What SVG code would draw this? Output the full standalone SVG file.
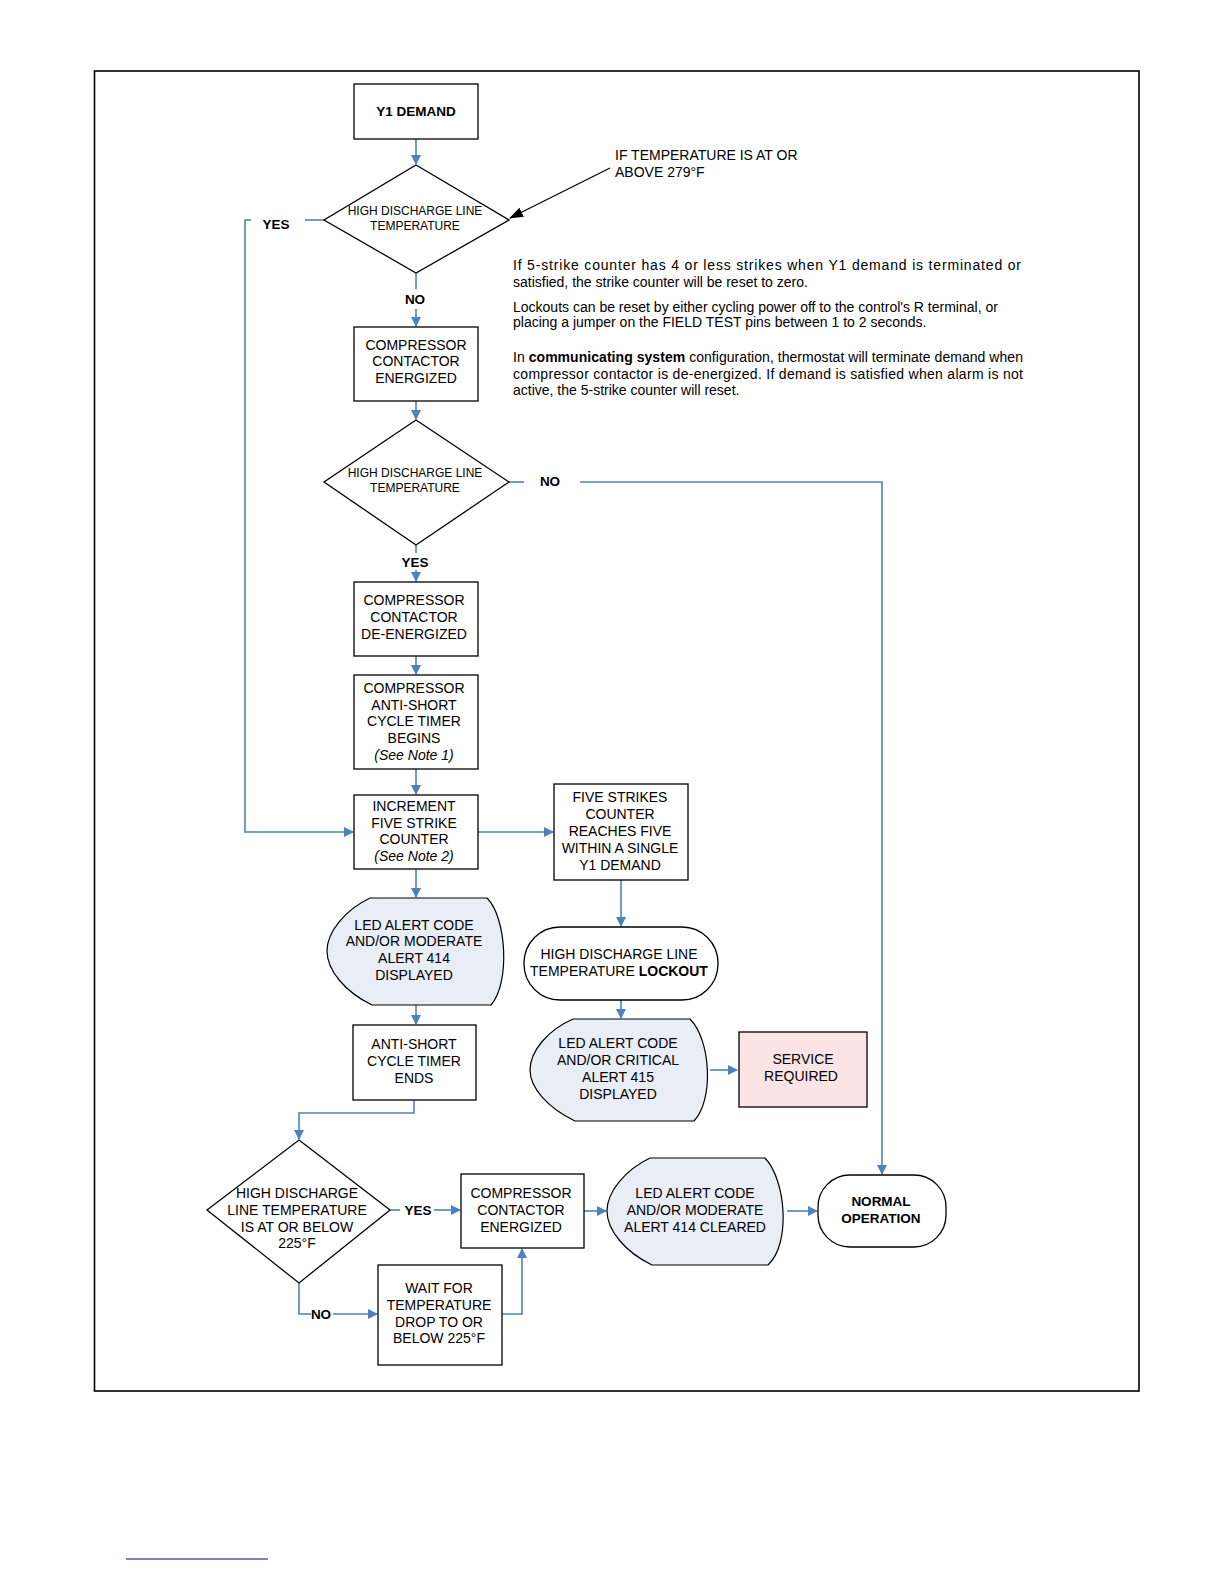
<svg xmlns="http://www.w3.org/2000/svg" width="1224" height="1584" viewBox="0 0 1224 1584">
<style>
.box{fill:#fff;stroke:#000;stroke-width:1.3}
.disp{fill:#E9EDF6;stroke:#000;stroke-width:1.2}
.t{font-family:"Liberation Sans",Arial,sans-serif;font-size:14px;fill:#000;text-anchor:middle}
.ts{font-family:"Liberation Sans",Arial,sans-serif;font-size:12px;fill:#000;text-anchor:middle}
.b{font-family:"Liberation Sans",Arial,sans-serif;font-size:13.5px;font-weight:bold;fill:#000;text-anchor:middle}
.n{font-family:"Liberation Sans",Arial,sans-serif;font-size:14px;fill:#000}
.c{fill:none;stroke:#4F81BD;stroke-width:1.6}
</style>
<defs>
<marker id="ar" markerWidth="10" markerHeight="10" refX="9" refY="5" orient="auto" markerUnits="userSpaceOnUse">
<path d="M0,0 L10,5 L0,10 Z" fill="#4F81BD"/>
</marker>
<marker id="ak" markerWidth="14" markerHeight="10" refX="13" refY="5" orient="auto" markerUnits="userSpaceOnUse">
<path d="M0,0 L14,5 L0,10 Z" fill="#000"/>
</marker>
</defs>
<rect width="1224" height="1584" fill="#fff"/>
<rect x="94.5" y="71" width="1044.5" height="1320" fill="none" stroke="#000" stroke-width="1.6"/>
<line x1="126" y1="1559" x2="268" y2="1559" stroke="#000080" stroke-width="1.2"/>

<g id="connectors">
<path class="c" d="M416,139 V164" marker-end="url(#ar)"/>
<path class="c" d="M324,220 H305"/>
<path class="c" d="M251,220 H245 V832 H353" marker-end="url(#ar)"/>
<path class="c" d="M416,273 V289"/>
<path class="c" d="M416,309 V326" marker-end="url(#ar)"/>
<path class="c" d="M416,401 V419" marker-end="url(#ar)"/>
<path class="c" d="M509,482 H524"/>
<path class="c" d="M580,482 H882 V1174" marker-end="url(#ar)"/>
<path class="c" d="M416,545 V553"/>
<path class="c" d="M416,570 V581" marker-end="url(#ar)"/>
<path class="c" d="M416,656 V674" marker-end="url(#ar)"/>
<path class="c" d="M416,769 V794" marker-end="url(#ar)"/>
<path class="c" d="M478,832 H553" marker-end="url(#ar)"/>
<path class="c" d="M621,880 V926" marker-end="url(#ar)"/>
<path class="c" d="M621,1000 V1018" marker-end="url(#ar)"/>
<path class="c" d="M416,869 V897" marker-end="url(#ar)"/>
<path class="c" d="M416,1005 V1024" marker-end="url(#ar)"/>
<path class="c" d="M414,1100 V1113 H299 V1139" marker-end="url(#ar)"/>
<path class="c" d="M710,1070 H737" marker-end="url(#ar)"/>
<path class="c" d="M390,1210 H400"/>
<path class="c" d="M434,1210 H460" marker-end="url(#ar)"/>
<path class="c" d="M584,1211 H606" marker-end="url(#ar)"/>
<path class="c" d="M787,1211 H817" marker-end="url(#ar)"/>
<path class="c" d="M299,1283 V1314 H377" marker-end="url(#ar)"/>
<path class="c" d="M502,1314 H522 V1249" marker-end="url(#ar)"/>
<path d="M610,168 L510,218" fill="none" stroke="#000" stroke-width="1.2" marker-end="url(#ak)"/>
</g>

<g id="labels">
<text class="b" x="276" y="229">YES</text>
<text class="b" x="415" y="304">NO</text>
<text class="b" x="550" y="486">NO</text>
<text class="b" x="415" y="567">YES</text>
<text class="b" x="418" y="1215">YES</text>
<rect x="311" y="1306" width="22" height="15" fill="#fff"/>
<text class="b" x="321" y="1319">NO</text>
</g>

<g id="note-temp">
<text class="n" x="615" y="160">IF TEMPERATURE IS AT OR</text>
<text class="n" x="615" y="177">ABOVE 279°F</text>
</g>

<g id="notes">
<text class="n" x="513" y="270" textLength="508" lengthAdjust="spacing">If 5-strike counter has 4 or less strikes when Y1 demand is terminated or</text>
<text class="n" x="513" y="287">satisfied, the strike counter will be reset to zero.</text>
<text class="n" x="513" y="312">Lockouts can be reset  by either cycling power off to the control's R terminal, or</text>
<text class="n" x="513" y="327">placing a jumper on the FIELD TEST pins between 1 to 2 seconds.</text>
<text class="n" x="513" y="362" textLength="510" lengthAdjust="spacing">In <tspan font-weight="bold">communicating system</tspan> configuration, thermostat will terminate demand when</text>
<text class="n" x="513" y="379" textLength="510" lengthAdjust="spacing">compressor contactor is de-energized. If demand is satisfied when alarm is not</text>
<text class="n" x="513" y="395">active, the 5-strike counter will reset.</text>
</g>

<g id="y1demand">
<rect class="box" x="354" y="84" width="124" height="55"/>
<text class="b" x="416" y="116" font-size="14">Y1 DEMAND</text>
</g>

<g id="hdlt1">
<path class="box" d="M416,165 L509,220 L416,273 L324,220 Z"/>
<text class="ts" x="415" y="215">HIGH DISCHARGE LINE</text>
<text class="ts" x="415" y="230">TEMPERATURE</text>
</g>

<g id="cce1">
<rect class="box" x="354" y="327" width="124" height="74"/>
<text class="t" x="416" y="350">COMPRESSOR</text>
<text class="t" x="416" y="366">CONTACTOR</text>
<text class="t" x="416" y="383">ENERGIZED</text>
</g>

<g id="hdlt2">
<path class="box" d="M416,420 L509,482 L416,545 L324,482 Z"/>
<text class="ts" x="415" y="477">HIGH DISCHARGE LINE</text>
<text class="ts" x="415" y="492">TEMPERATURE</text>
</g>

<g id="ccde">
<rect class="box" x="354" y="582" width="124" height="74"/>
<text class="t" x="414" y="605">COMPRESSOR</text>
<text class="t" x="414" y="622">CONTACTOR</text>
<text class="t" x="414" y="639">DE-ENERGIZED</text>
</g>

<g id="ascbegins">
<rect class="box" x="354" y="675" width="124" height="94"/>
<text class="t" x="414" y="693">COMPRESSOR</text>
<text class="t" x="414" y="710">ANTI-SHORT</text>
<text class="t" x="414" y="726">CYCLE TIMER</text>
<text class="t" x="414" y="743">BEGINS</text>
<text class="t" x="414" y="760" font-style="italic">(See Note 1)</text>
</g>

<g id="increment">
<rect class="box" x="354" y="795" width="124" height="74"/>
<text class="t" x="414" y="811">INCREMENT</text>
<text class="t" x="414" y="828">FIVE STRIKE</text>
<text class="t" x="414" y="844">COUNTER</text>
<text class="t" x="414" y="861" font-style="italic">(See Note 2)</text>
</g>

<g id="fivestrikes">
<rect class="box" x="554" y="784" width="134" height="96"/>
<text class="t" x="620" y="802">FIVE STRIKES</text>
<text class="t" x="620" y="819">COUNTER</text>
<text class="t" x="620" y="836">REACHES FIVE</text>
<text class="t" x="620" y="853">WITHIN A SINGLE</text>
<text class="t" x="620" y="870">Y1 DEMAND</text>
</g>

<g id="lockout">
<rect class="box" x="524" y="927" width="194" height="73" rx="36" ry="36"/>
<text class="t" x="619" y="959">HIGH DISCHARGE LINE</text>
<text class="t" x="619" y="976">TEMPERATURE <tspan font-weight="bold">LOCKOUT</tspan></text>
</g>

<g id="alert414">
<path class="disp" d="M370,898 L487,898 C507,918 510,984 491,1005 L372,1005 C345,992 327,970 327,951 C327,932 345,910 370,898 Z"/>
<text class="t" x="414" y="930">LED ALERT CODE</text>
<text class="t" x="414" y="946">AND/OR MODERATE</text>
<text class="t" x="414" y="963">ALERT 414</text>
<text class="t" x="414" y="980">DISPLAYED</text>
</g>

<g id="ascends">
<rect class="box" x="353" y="1025" width="123" height="75"/>
<text class="t" x="414" y="1049">ANTI-SHORT</text>
<text class="t" x="414" y="1066">CYCLE TIMER</text>
<text class="t" x="414" y="1083">ENDS</text>
</g>

<g id="alert415">
<path class="disp" d="M573,1019 L690,1019 C711,1040 714,1100 694,1121 L575,1121 C548,1108 530,1088 530,1070 C530,1051 548,1030 573,1019 Z"/>
<text class="t" x="618" y="1048">LED ALERT CODE</text>
<text class="t" x="618" y="1065">AND/OR CRITICAL</text>
<text class="t" x="618" y="1082">ALERT 415</text>
<text class="t" x="618" y="1099">DISPLAYED</text>
</g>

<g id="service">
<rect x="739" y="1032" width="128" height="75" fill="#FCE4E4" stroke="#000" stroke-width="1.3"/>
<text class="t" x="803" y="1064">SERVICE</text>
<text class="t" x="801" y="1081">REQUIRED</text>
</g>

<g id="hdlt3">
<path class="box" d="M299,1140 L390,1210 L299,1283 L207,1210 Z"/>
<text class="t" x="297" y="1198">HIGH DISCHARGE</text>
<text class="t" x="297" y="1215">LINE TEMPERATURE</text>
<text class="t" x="297" y="1232">IS AT OR BELOW</text>
<text class="t" x="297" y="1248">225°F</text>
</g>

<g id="cce2">
<rect class="box" x="461" y="1174" width="123" height="74"/>
<text class="t" x="521" y="1198">COMPRESSOR</text>
<text class="t" x="521" y="1215">CONTACTOR</text>
<text class="t" x="521" y="1232">ENERGIZED</text>
</g>

<g id="waitfor">
<rect class="box" x="378" y="1265" width="124" height="100"/>
<text class="t" x="439" y="1293">WAIT FOR</text>
<text class="t" x="439" y="1310">TEMPERATURE</text>
<text class="t" x="439" y="1327">DROP TO OR</text>
<text class="t" x="439" y="1343">BELOW 225°F</text>
</g>

<g id="cleared">
<path class="disp" d="M650,1158 L765,1158 C786,1180 791,1244 768,1265 L652,1265 C625,1252 607,1230 607,1211 C607,1192 625,1170 650,1158 Z"/>
<text class="t" x="695" y="1198">LED ALERT CODE</text>
<text class="t" x="695" y="1215">AND/OR MODERATE</text>
<text class="t" x="695" y="1232">ALERT 414 CLEARED</text>
</g>

<g id="normal">
<rect class="box" x="818" y="1175" width="128" height="72" rx="32" ry="32"/>
<text class="b" x="881" y="1206">NORMAL</text>
<text class="b" x="881" y="1223">OPERATION</text>
</g>
</svg>
